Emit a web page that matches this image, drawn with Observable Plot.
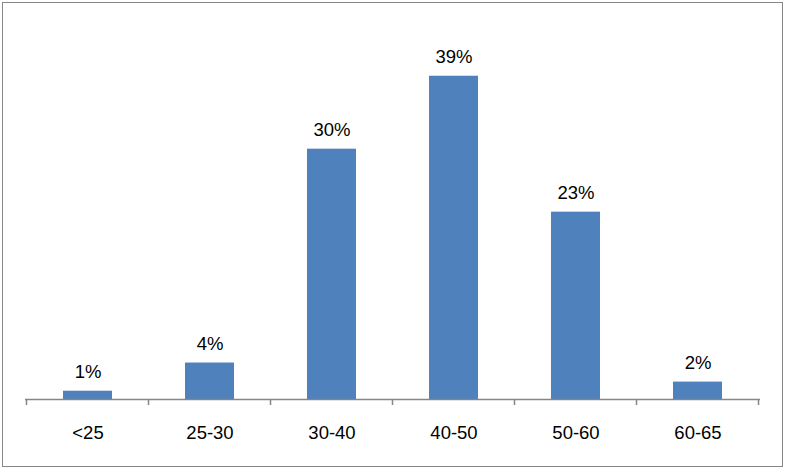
<!DOCTYPE html>
<html>
<head>
<meta charset="utf-8">
<script src="https://cdn.jsdelivr.net/npm/d3@7"></script>
<script src="https://cdn.jsdelivr.net/npm/@observablehq/plot@0.6"></script>
<style>
  html, body { margin: 0; padding: 0; background: #fff; }
  #wrap { position: relative; width: 785px; height: 468px; }
  #frame { position: absolute; left: 2px; top: 2px; width: 779px; height: 463px; border: 1px solid #868686; pointer-events: none; }
  #chart { position: absolute; left: 0; top: 0; }
</style>
</head>
<body>
<div id="wrap"><div id="chart"></div><div id="frame"></div></div>
<script>
const categories = ["<25", "25-30", "30-40", "40-50", "50-60", "60-65"];
const shares = [1.0, 4.4, 30.2, 39.0, 22.6, 2.1];
const labels = ["1%", "4%", "30%", "39%", "23%", "2%"];

const data = categories.map((c, i) => ({cat: c, v: shares[i], label: labels[i]}));

function boundaryTicks(index, scales, values, dimensions, context) {
  const x = scales.x, y = scales.y;
  const g = d3.create("svg:g");
  const bw = typeof x.bandwidth === "function" ? x.bandwidth() : x.bandwidth;
  const step = typeof x.step === "function" ? x.step() : x.step;
  const y0 = y(0);
  const pos = categories.map(c => x(c) + bw / 2 - step / 2);
  pos.push(x(categories[categories.length - 1]) + bw / 2 + step / 2);
  for (const p of pos) {
    g.append("line")
      .attr("x1", p).attr("x2", p)
      .attr("y1", y0).attr("y2", y0 + 6)
      .attr("stroke", "#868686").attr("stroke-width", 1.5);
  }
  return g.node();
}

const plot = Plot.plot({
  width: 785,
  height: 468,
  marginLeft: 25,
  marginRight: 25,
  marginTop: 26,
  marginBottom: 69,
  style: {fontFamily: "'Liberation Sans', Arial, sans-serif", fontSize: "18.5px", color: "#000", background: "transparent"},
  x: {domain: categories, paddingInner: 0.6, paddingOuter: 0.3, align: 0.5, label: null},
  y: {domain: [0, 45], axis: null},
  marks: [
    Plot.barY(data, {x: "cat", y: "v", fill: "#4F81BD"}),
    Plot.text(data, {x: "cat", y: "v", text: "label", dy: -19, fontSize: 18.5, fill: "#000"}),
    Plot.ruleY([0], {stroke: "#868686", strokeWidth: 1.5}),
    boundaryTicks,
    Plot.axisX({tickSize: 0, tickPadding: 26, fontSize: 18.5, label: null, fill: "#000"})
  ]
});
document.getElementById("chart").appendChild(plot);
</script>
</body>
</html>
